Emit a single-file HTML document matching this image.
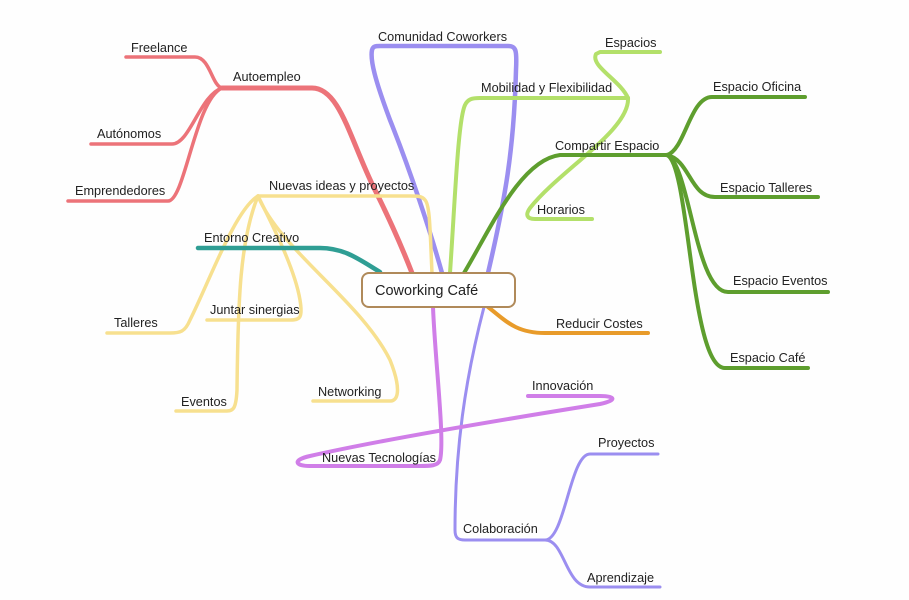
<!DOCTYPE html>
<html><head><meta charset="utf-8"><style>
html,body{margin:0;padding:0;background:#fff;}
svg{display:block}
text{font-family:"Liberation Sans",sans-serif;font-size:12.7px;fill:#222;}
</style></head><body>
<svg width="909" height="600" viewBox="0 0 909 600">
<rect width="909" height="600" fill="#fefefe"/>
<g fill="none" stroke-linecap="round" stroke-linejoin="round">
<g stroke="#ec7379">
<path d="M126 57 H195 C210 57 212 86 222 88" stroke-width="3.5"/>
<path d="M91 144 H172 C190 144 200 95 222 88" stroke-width="3.5"/>
<path d="M68 201 H168 C185 201 195 100 222 88" stroke-width="3.5"/>
<path d="M222 88 H312 C340 88 350 140 375 190 C395 230 405 255 412 273" stroke-width="5"/>
</g>
<g stroke="#9b8ef0">
<path d="M442 273 C430 230 410 170 390 120 C375 80 370 60 372 50 C373 46 376 46 380 46 H508 C516 46 517 50 516 70 C514 150 505 200 488 273" stroke-width="4.5"/>
<path d="M484 307 C465 380 455 450 455 530 C455 538 458 540 465 540 H545" stroke-width="3"/>
<path d="M545 540 C565 540 570 454 590 454 H658" stroke-width="3"/>
<path d="M545 540 C565 540 565 587 590 587 H660" stroke-width="3"/>
</g>
<g stroke="#b3e06a" stroke-width="4">
<path d="M450 273 C455 200 458 120 465 105 C468 99 472 98 480 98 H628"/>
<path d="M628 98 C620 80 590 66 596 54 L600 52 H660"/>
<path d="M628 98 C630 130 560 170 530 208 C525 215 527 219 535 219 H592"/>
</g>
<g stroke="#5e9e2e" stroke-width="4">
<path d="M464 273 C490 230 520 160 560 155 H667"/>
<path d="M667 155 C685 150 690 97 712 97 H805"/>
<path d="M667 155 C690 160 690 197 715 197 H818"/>
<path d="M667 155 C690 165 695 292 728 292 H828"/>
<path d="M667 155 C690 165 690 368 725 368 H808"/>
</g>
<g stroke="#f7e08f" stroke-width="3.5">
<path d="M432 273 C430 230 430 205 425 200 C422 196 418 196 410 196 H258"/>
<path d="M258 196 C235 210 210 280 190 320 C185 332 180 333 170 333 H107"/>
<path d="M258 196 C275 230 295 270 300 300 C303 318 300 320 290 320 H207"/>
<path d="M258 196 C240 240 238 300 237 390 C236 410 233 411 225 411 H176"/>
<path d="M258 196 C280 250 360 300 390 360 C400 385 400 401 390 401 H313"/>
</g>
<path d="M198 248 H320 C345 248 360 260 380 272" stroke="#2f9e94" stroke-width="4.5"/>
<path d="M488 307 C505 320 515 333 545 333 H648" stroke="#e89b2a" stroke-width="4"/>
<path d="M433 307 C435 360 445 440 440 460 C438 466 430 466 420 466 H310 C295 466 292 460 310 456 C380 440 500 420 600 404 C618 400 615 396 600 396 H528" stroke="#d07ee8" stroke-width="4"/>
</g>
<rect x="362" y="273" width="153" height="34" rx="7" fill="#fff" stroke="#b08a5a" stroke-width="2"/>
<text x="375" y="295" style="font-size:14.5px">Coworking Café</text>
<text x="131" y="52">Freelance</text>
<text x="233" y="81">Autoempleo</text>
<text x="97" y="138">Autónomos</text>
<text x="75" y="195">Emprendedores</text>
<text x="269" y="190">Nuevas ideas y proyectos</text>
<text x="204" y="242">Entorno Creativo</text>
<text x="114" y="327">Talleres</text>
<text x="210" y="314">Juntar sinergias</text>
<text x="181" y="406">Eventos</text>
<text x="318" y="396">Networking</text>
<text x="378" y="41">Comunidad Coworkers</text>
<text x="605" y="47">Espacios</text>
<text x="481" y="92">Mobilidad y Flexibilidad</text>
<text x="555" y="150">Compartir Espacio</text>
<text x="537" y="214">Horarios</text>
<text x="713" y="91">Espacio Oficina</text>
<text x="720" y="192">Espacio Talleres</text>
<text x="733" y="285">Espacio Eventos</text>
<text x="730" y="362">Espacio Café</text>
<text x="556" y="328">Reducir Costes</text>
<text x="532" y="390">Innovación</text>
<text x="322" y="462">Nuevas Tecnologías</text>
<text x="598" y="447">Proyectos</text>
<text x="463" y="533">Colaboración</text>
<text x="587" y="582">Aprendizaje</text>
</svg>
</body></html>
